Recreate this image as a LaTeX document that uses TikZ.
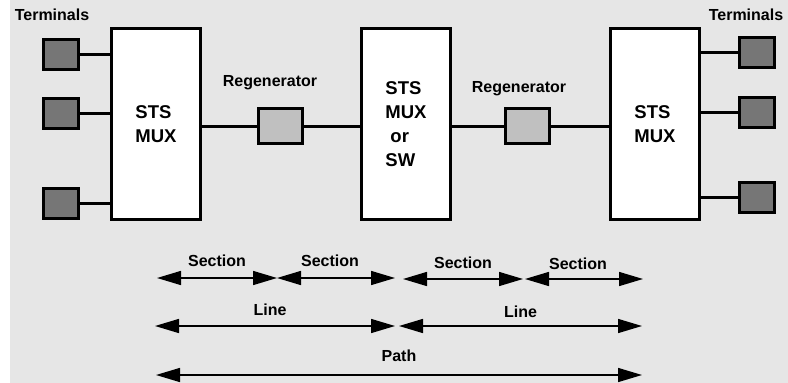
\documentclass[tikz,border=0pt]{standalone}
\usepackage{fontspec}
\setmainfont{Liberation Sans}
\usetikzlibrary{arrows.meta,positioning}
\definecolor{sonetBack}{RGB}{230,230,230}
\definecolor{sonetTerm}{RGB}{118,118,118}
\definecolor{sonetRegen}{RGB}{192,192,192}
\tikzset{
  muxbox/.style={draw, line width=3pt, fill=white, minimum width=89pt, minimum height=191pt,
    font=\fontsize{18.5}{24}\selectfont\bfseries, align=left},
  termbox/.style={draw, line width=3pt, fill=sonetTerm, minimum width=35pt, minimum height=30pt, inner sep=0pt},
  regenbox/.style={draw, line width=3pt, fill=sonetRegen, minimum width=44pt, minimum height=35pt, inner sep=0pt},
  lbl/.style={font=\fontsize{16}{18}\selectfont\bfseries},
  link/.style={line width=3pt},
  span/.style={line width=1.5pt, {Triangle[length=24pt,width=14pt]}-{Triangle[length=24pt,width=14pt]}}
}

\begin{document}
\begin{tikzpicture}[x=1pt, y=-1pt]
\useasboundingbox (0,0) rectangle (788,383);
\fill[sonetBack] (10,0) rectangle (788,383);

% multiplexers
\node[muxbox] (muxL) at (156,124) {STS\\MUX};
\node[muxbox] (muxC) at (406,124) {STS\\MUX\\\hspace*{5pt}or\\SW};
\node[muxbox] (muxR) at (655,124) {STS\\MUX};

% regenerators
\node[regenbox] (regA) at (280.5,126) {};
\node[regenbox] (regB) at (527.5,126) {};
\node[lbl] (regAlbl) at (270,83) {Regenerator};
\node[lbl] (regBlbl) at (519,89) {Regenerator};

\draw[link] (muxL.east |- regA) -- (regA);
\draw[link] (regA) -- (muxC.west |- regA);
\draw[link] (muxC.east |- regB) -- (regB);
\draw[link] (regB) -- (muxR.west |- regB);

% terminals
\node[lbl] (termLlbl) at (52,15) {Terminals};
\node[lbl] (termRlbl) at (746,15) {Terminals};
\foreach \i/\y in {1/54, 2/113, 3/203}
{
\node[termbox] (tL\i) at (61,\y) {};
\draw[link] (tL\i) -- (tL\i -| muxL.west);
}
\foreach \i/\y in {1/52.5, 2/112.5, 3/197.5}
{
\node[termbox] (tR\i) at (756.5,\y) {};
\draw[link] (tR\i) -- (tR\i -| muxR.east);
}

% spans
\coordinate (s0) at (157,278);
\coordinate (s1) at (277,278);
\coordinate (s2) at (395,278);
\coordinate (s3) at (403,279);
\coordinate (s4) at (523,279);
\coordinate (s5) at (525,279);
\coordinate (s6) at (643,279);
\draw[span] (s0) -- (s1) node[lbl, midway, above=7pt] {Section};
\draw[span] (s1) -- (s2) node[lbl, midway, above=7pt, xshift=-6pt] {Section};
\draw[span] (s3) -- (s4) node[lbl, midway, above=6pt] {Section};
\draw[span] (s5) -- (s6) node[lbl, midway, above=5pt, xshift=-6pt] {Section};

\coordinate (l0) at (155,326);
\coordinate (l1) at (395,326);
\coordinate (l2) at (399,326);
\coordinate (l3) at (642,326);
\draw[span] (l0) -- (l1) node[lbl, midway, above=6pt, xshift=-5pt] {Line};
\draw[span] (l2) -- (l3) node[lbl, midway, above=4pt] {Line};

\coordinate (p0) at (156,375);
\coordinate (p1) at (642,375);
\draw[span] (p0) -- (p1) node[lbl, midway, above=9pt] {Path};
\end{tikzpicture}
\end{document}
